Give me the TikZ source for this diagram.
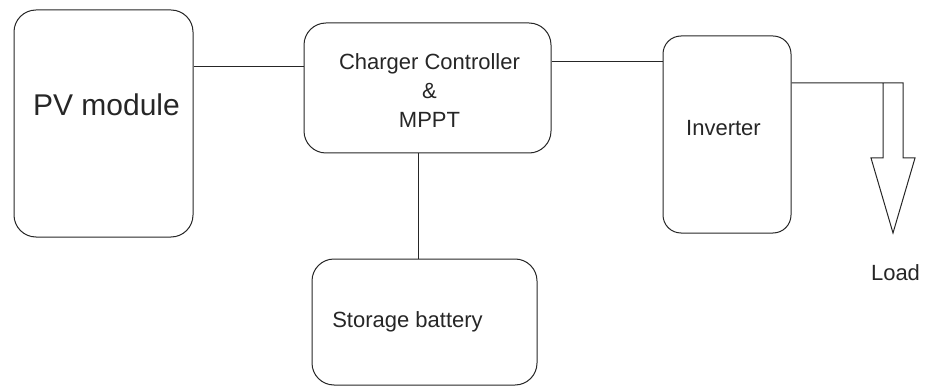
\documentclass[tikz,border=0pt]{standalone}
\usepackage{fontspec}
\setmainfont{Liberation Sans}
\begin{document}
\begin{tikzpicture}[x=1pt,y=-1pt,
  blk/.style={draw=black!85, line width=1pt, rounded corners=22pt, inner sep=0pt},
  lbl/.style={inner sep=0pt, font=\fontsize{22}{29}\selectfont, align=center, text=black!85},
  wire/.style={draw=black!85, line width=1pt}]
\useasboundingbox (0,0) rectangle (925,387);
% boxes
\node[blk, minimum width=179pt, minimum height=227pt] (pv) at (103.5,123.5) {};
\node[blk, minimum width=247pt, minimum height=130pt] (cc) at (427.5,88) {};
\node[blk, rounded corners=18pt, minimum width=128pt, minimum height=197pt] (inv) at (727,134.5) {};
\node[blk, minimum width=225pt, minimum height=126pt] (bat) at (424.5,322) {};
% texts
\node[lbl, font=\fontsize{30}{36}\selectfont] (pvt) at (106.5,105) {PV module};
\node[lbl] (cct) at (429.5,91) {Charger Controller\\\&\\MPPT};
\node[lbl] (invt) at (723.5,128) {Inverter};
\node[lbl] (batt) at (407.5,322) {Storage battery};
\node[lbl] (loadt) at (895.5,273) {Load};
% connector levels
\coordinate (y1) at (0,67);
\coordinate (y2) at (0,62);
\coordinate (x3) at (418,0);
\coordinate (y4) at (0,83);
\coordinate (sR) at (903,83);
\coordinate (sRb) at (903,158);
\coordinate (hR) at (915,158);
\coordinate (tip) at (893,233);
\coordinate (hL) at (871,158);
\coordinate (sLb) at (883,158);
\coordinate (sL) at (883,83);
% connectors
\draw[wire] (pv.east |- y1) -- (cc.west |- y1);
\draw[wire] (cc.east |- y2) -- (inv.west |- y2);
\draw[wire] (cc.south -| x3) -- (bat.north -| x3);
\draw[wire, line join=miter] (inv.east |- y4) -- (sR) -- (sRb) -- (hR) -- (tip) -- (hL) -- (sLb) -- (sL);
\end{tikzpicture}
\end{document}
